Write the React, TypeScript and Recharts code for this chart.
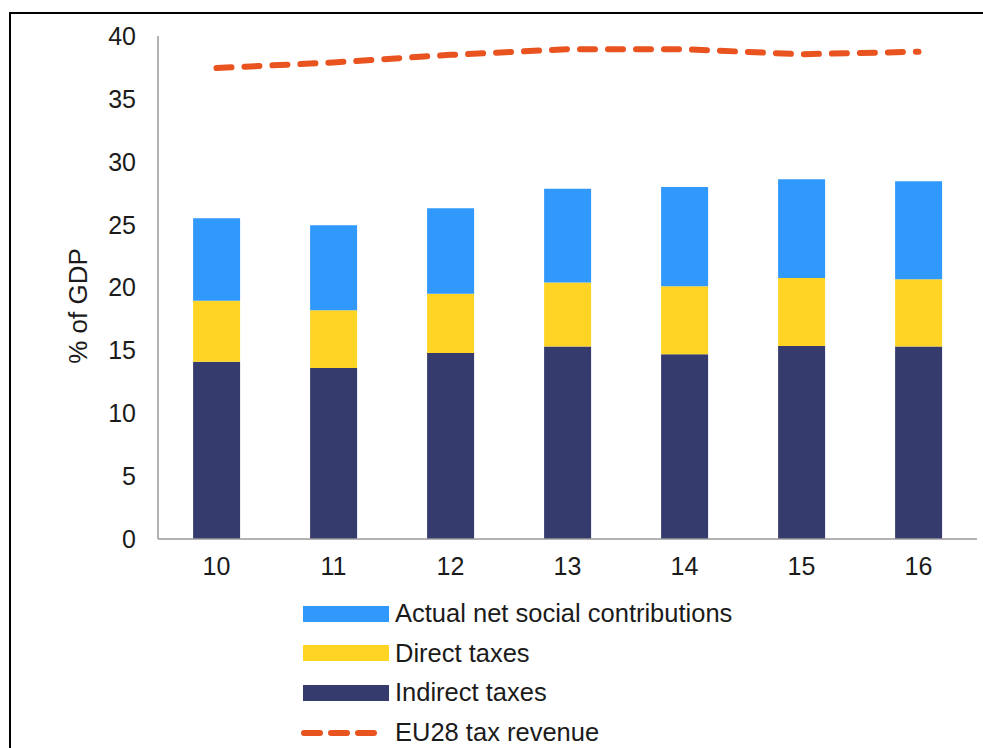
import React from "react";
import { ComposedChart, Bar, Line, XAxis, YAxis, Legend, Label } from "recharts";

const years = ["10", "11", "12", "13", "14", "15", "16"];
const indirectTaxes = [14.1, 13.6, 14.8, 15.3, 14.7, 15.35, 15.3];
const directTaxes = [4.85, 4.6, 4.7, 5.1, 5.4, 5.4, 5.35];
const socialContributions = [6.55, 6.75, 6.8, 7.45, 7.9, 7.85, 7.8];
const eu28Revenue = [37.45, 37.9, 38.5, 38.95, 38.95, 38.55, 38.75];
const yTicks = [0, 5, 10, 15, 20, 25, 30, 35, 40];

const data = years.map((year, i) => ({
  year,
  indirect: indirectTaxes[i],
  direct: directTaxes[i],
  social: socialContributions[i],
  eu28: eu28Revenue[i],
}));

const COLORS = {
  social: "#3199fb",
  direct: "#ffd424",
  indirect: "#363b6e",
  eu28: "#e8531f",
};

const font = "'Liberation Sans', Arial, sans-serif";
const textColor = "#1b1b1b";

const legendItems = [
  { label: "Actual net social contributions", color: COLORS.social, kind: "bar" },
  { label: "Direct taxes", color: COLORS.direct, kind: "bar" },
  { label: "Indirect taxes", color: COLORS.indirect, kind: "bar" },
  { label: "EU28 tax revenue", color: COLORS.eu28, kind: "line" },
];

function LegendContent() {
  return (
    <div style={{ fontFamily: font, fontSize: 25.5, lineHeight: "29px", color: textColor }}>
      {legendItems.map((item) => (
        <div key={item.label} style={{ display: "flex", alignItems: "center", height: 39.6 }}>
          <svg width={95} height={20} style={{ flex: "none" }}>
            {item.kind === "bar" ? (
              <rect x={3} y={2} width={86} height={16} fill={item.color} />
            ) : (
              <line
                x1={4}
                y1={10}
                x2={78}
                y2={10}
                stroke={item.color}
                strokeWidth={6}
                strokeDasharray="16 11"
                strokeLinecap="round"
              />
            )}
          </svg>
          <span style={{ whiteSpace: "nowrap" }}>{item.label}</span>
        </div>
      ))}
    </div>
  );
}

export default function App() {
  return (
    <div style={{ position: "absolute", left: 0, top: 0, width: 983, height: 748, overflow: "hidden", background: "#fff" }}>
      <div
        style={{
          position: "absolute",
          left: 9,
          top: 12,
          width: 980,
          height: 740,
          borderLeft: "2.5px solid #000",
          borderTop: "2.5px solid #000",
        }}
      />
      <ComposedChart
        width={983}
        height={748}
        data={data}
        margin={{ top: 36, right: 6, left: 0, bottom: 179 }}
        barCategoryGap="30%"
      >
        <XAxis
          dataKey="year"
          axisLine={{ stroke: "#9a9a9a", strokeWidth: 1.5 }}
          tickLine={false}
          tickSize={0}
          tickMargin={18}
          tick={{ fill: textColor, fontSize: 25, fontFamily: font }}
        />
        <YAxis
          width={158}
          domain={[0, 40]}
          ticks={yTicks}
          interval={0}
          axisLine={{ stroke: "#9a9a9a", strokeWidth: 1.5 }}
          tickLine={false}
          tickSize={0}
          tickMargin={22}
          tick={{ fill: textColor, fontSize: 25, fontFamily: font }}
        >
          <Label
            content={() => (
              <text
                x={78}
                y={306}
                transform="rotate(-90, 78, 306)"
                textAnchor="middle"
                dominantBaseline="central"
                fill={textColor}
                fontSize={26}
                fontFamily={font}
              >
                % of GDP
              </text>
            )}
          />
        </YAxis>
        <Legend
          layout="vertical"
          align="center"
          verticalAlign="middle"
          wrapperStyle={{ left: 300, top: 594, width: 560 }}
          content={() => <LegendContent />}
        />
        <Bar dataKey="indirect" stackId="a" fill={COLORS.indirect} isAnimationActive={false} />
        <Bar dataKey="direct" stackId="a" fill={COLORS.direct} isAnimationActive={false} />
        <Bar dataKey="social" stackId="a" fill={COLORS.social} isAnimationActive={false} />
        <Line
          dataKey="eu28"
          type="linear"
          stroke={COLORS.eu28}
          strokeWidth={6}
          strokeDasharray="15 13"
          strokeLinecap="round"
          dot={false}
          activeDot={false}
          isAnimationActive={false}
        />
      </ComposedChart>
    </div>
  );
}
